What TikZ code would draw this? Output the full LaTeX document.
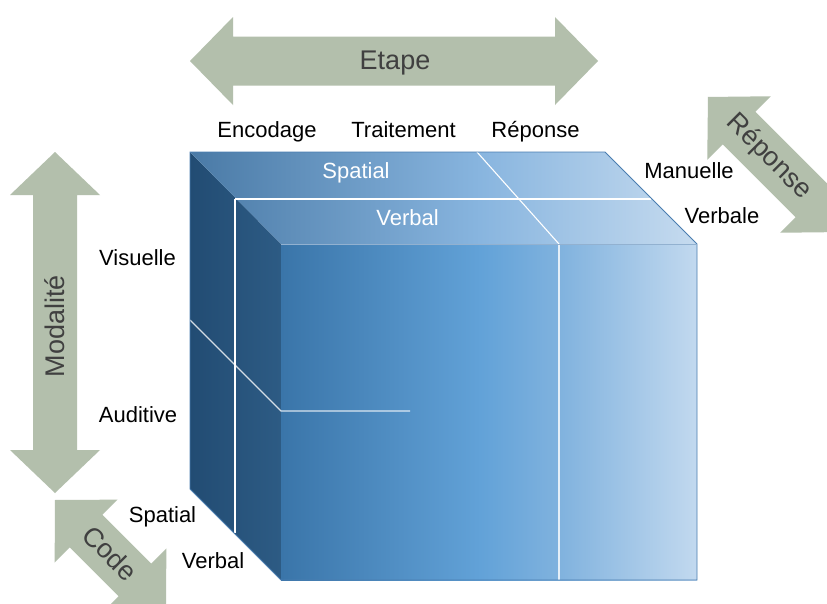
\documentclass[tikz,border=0pt]{standalone}
\usepackage{fontspec}
\setmainfont{Liberation Sans}
\definecolor{arrowgray}{HTML}{B3BFAC}
\definecolor{darktext}{HTML}{404040}
\definecolor{edgeblue}{HTML}{4A7DB0}
\definecolor{frontL}{HTML}{3A75A9}
\definecolor{frontM}{HTML}{62A2D8}
\definecolor{frontN}{HTML}{80B2DE}
\definecolor{frontR}{HTML}{C2D9EF}
\definecolor{topL}{HTML}{4A7AA6}
\definecolor{topM}{HTML}{88B5DF}
\definecolor{topR}{HTML}{C6DBEF}
\definecolor{sideL}{HTML}{224C73}
\definecolor{sideR}{HTML}{2D5B84}
\pgfdeclarehorizontalshading{frontshade}{100bp}{color(0bp)=(frontL); color(25bp)=(frontL); color(49bp)=(frontM); color(58.4bp)=(frontN); color(75bp)=(frontR); color(100bp)=(frontR)}
\pgfdeclarehorizontalshading{topshade}{100bp}{color(0bp)=(topL); color(25bp)=(topL); color(53.6bp)=(topM); color(75bp)=(topR); color(100bp)=(topR)}
\pgfdeclarehorizontalshading{sideshade}{100bp}{color(0bp)=(sideL); color(25bp)=(sideL); color(75bp)=(sideR); color(100bp)=(sideR)}
\tikzset{
  pics/dblarrow/.style n args={4}{code={%
    \fill[arrowgray] (-#1/2,0) -- (-#1/2+#2,-#3/2) -- (-#1/2+#2,-#4/2) -- (#1/2-#2,-#4/2)
      -- (#1/2-#2,-#3/2) -- (#1/2,0) -- (#1/2-#2,#3/2) -- (#1/2-#2,#4/2)
      -- (-#1/2+#2,#4/2) -- (-#1/2+#2,#3/2) -- cycle;}}
}
\begin{document}
\begin{tikzpicture}[x=1pt,y=-1pt,
  lab/.style={font=\fontsize{22}{24}\selectfont, text=black, inner sep=0pt, anchor=base},
  wlab/.style={lab, text=white},
  axlab/.style={font=\fontsize{27}{30}\selectfont, text=darktext, inner sep=0pt},
  divider/.style={draw=white, line width=1.1pt},
  softdivider/.style={draw=white, draw opacity=0.8, line width=1.1pt},
  cubeedge/.style={draw=edgeblue, line width=0.8pt}]
\useasboundingbox (0,0) rectangle (827,603);
\fill[white] (0,0) rectangle (827,603);

% ---- axis arrows ----
\begin{scope}
\clip (0,0) rectangle (827,603);
\pic at (394,61) {dblarrow={408}{43}{88}{49}};
\pic[rotate=90] at (55,322.5) {dblarrow={341}{43}{90}{44}};
\pic[rotate=-45] at (110.5,555.5) {dblarrow={157}{44}{89}{46}};
\pic[rotate=-45] at (775.5,164.5) {dblarrow={191}{44}{90}{46}};
\end{scope}
\node[axlab] (etape) at (395,63) {Etape};
\node[axlab, rotate=90] (modalite) at (55,326) {Modalité};
\node[axlab, rotate=-45] (code) at (110,553) {Code};
\node[axlab, rotate=-45] (repax) at (769,157) {Réponse};

% ---- cube ----
\coordinate (B1) at (190,152);
\coordinate (B2) at (605,152);
\coordinate (F1) at (281,244);
\coordinate (F2) at (697,244);
\coordinate (F3) at (697,580);
\coordinate (F4) at (281,580);
\coordinate (B4) at (190,489);

\shade[shading=sideshade] (B1) -- (F1) -- (F4) -- (B4) -- cycle;
\shade[shading=topshade] (B1) -- (B2) -- (F2) -- (F1) -- cycle;
\shade[shading=frontshade] (F1) rectangle (F3);

% dividers
\coordinate (M1) at (235,199);
\coordinate (M2) at (651,199);
\coordinate (M3) at (235,533);
\coordinate (T1) at (477,152);
\coordinate (T2) at (559,244);
\coordinate (T3) at (559,580);
\coordinate (L1) at (190,320);
\coordinate (L2) at (281,411);
\coordinate (L3) at (410,411);
\draw[divider] (M1) -- (M2);
\draw[divider] (M1) -- (M3);
\draw[divider] (T1) -- (T2);
\draw[softdivider] (T2) -- (T3);
\draw[softdivider] (L1) -- (L2) -- (L3);

\draw[cubeedge] (B1) -- (B2) -- (F2) -- (F3) -- (F4) -- (B4) -- cycle;
\draw[edgeblue!60, line width=0.5pt] (F1) -- (F2);

% ---- labels ----
\node[lab] (enc) at (267,137) {Encodage};
\node[lab] (trait) at (403.5,137) {Traitement};
\node[lab] (rep) at (535.5,137) {Réponse};
\node[wlab] (tspat) at (356,178) {Spatial};
\node[wlab] (tverb) at (407.5,225) {Verbal};
\node[lab] (man) at (689,178) {Manuelle};
\node[lab] (verbe) at (722,223) {Verbale};
\node[lab] (vis) at (137.5,265) {Visuelle};
\node[lab] (aud) at (138,422) {Auditive};
\node[lab] (lspat) at (162.5,522) {Spatial};
\node[lab] (lverb) at (213,568) {Verbal};
\end{tikzpicture}
\end{document}
